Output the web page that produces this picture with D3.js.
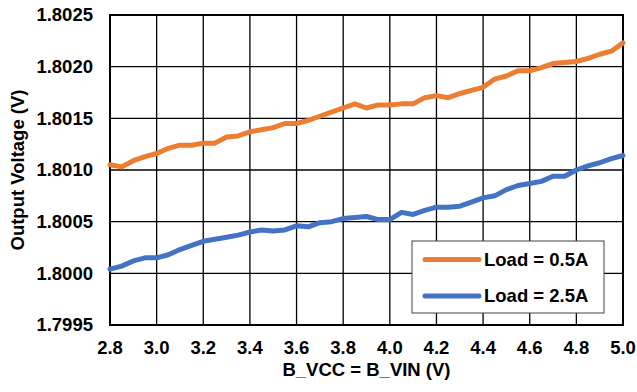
<!DOCTYPE html>
<html>
<head>
<meta charset="utf-8">
<script src="https://cdn.jsdelivr.net/npm/d3@7"></script>
<style>
  body { margin: 0; background: #fff; }
  text { font-family: Arial, "Liberation Sans", sans-serif; font-weight: bold; fill: #000; }
</style>
</head>
<body>
<div id="container"></div>
<script>
// supply voltage steps (V)
var vin = [2.8, 2.85, 2.9, 2.95, 3.0, 3.05, 3.1, 3.15, 3.2, 3.25, 3.3, 3.35, 3.4, 3.45, 3.5, 3.55,
  3.6, 3.65, 3.7, 3.75, 3.8, 3.85, 3.9, 3.95, 4.0, 4.05, 4.1, 4.15, 4.2, 4.25, 4.3, 4.35, 4.4,
  4.45, 4.5, 4.55, 4.6, 4.65, 4.7, 4.75, 4.8, 4.85, 4.9, 4.95, 5.0];

// output voltage, 0.5A load
var load05 = [1.80105, 1.80103, 1.80109, 1.80113, 1.80116, 1.80121, 1.80124, 1.80124, 1.80126,
  1.80126, 1.80132, 1.80133, 1.80137, 1.80139, 1.80141, 1.80145, 1.80145, 1.80148, 1.80152,
  1.80156, 1.80160, 1.80164, 1.80160, 1.80163, 1.80163, 1.80164, 1.80164, 1.80170, 1.80172,
  1.80170, 1.80174, 1.80177, 1.80180, 1.80188, 1.80191, 1.80196, 1.80196, 1.80199, 1.80203,
  1.80204, 1.80205, 1.80208, 1.80212, 1.80215, 1.80223];

// output voltage, 2.5A load
var load25 = [1.80004, 1.80007, 1.80012, 1.80015, 1.80015, 1.80018, 1.80023, 1.80027, 1.80031,
  1.80033, 1.80035, 1.80037, 1.80040, 1.80042, 1.80041, 1.80042, 1.80046, 1.80045, 1.80049,
  1.80050, 1.80053, 1.80054, 1.80055, 1.80052, 1.80052, 1.80059, 1.80057, 1.80061, 1.80064,
  1.80064, 1.80065, 1.80069, 1.80073, 1.80075, 1.80081, 1.80085, 1.80087, 1.80089, 1.80094,
  1.80094, 1.80100, 1.80104, 1.80107, 1.80111, 1.80114];

var xTicks = [2.8, 3.0, 3.2, 3.4, 3.6, 3.8, 4.0, 4.2, 4.4, 4.6, 4.8, 5.0];
var yTicks = [1.7995, 1.8000, 1.8005, 1.8010, 1.8015, 1.8020, 1.8025];
var seriesNames = ["Load = 0.5A", "Load = 2.5A"];
var seriesColors = ["#ED7D31", "#4472C4"];

var width = 637, height = 392;
var margin = {top: 15, right: 14, bottom: 67, left: 110};

var svg = d3.select("#container").append("svg")
  .attr("width", width)
  .attr("height", height);

var x = d3.scaleLinear().domain([2.8, 5.0]).range([margin.left, width - margin.right]);
var y = d3.scaleLinear().domain([1.7995, 1.8025]).range([height - margin.bottom, margin.top]);

// grid
svg.append("g").selectAll("line.v")
  .data(xTicks)
  .enter().append("line")
  .attr("x1", function(d){ return x(d); })
  .attr("x2", function(d){ return x(d); })
  .attr("y1", y(1.7995))
  .attr("y2", y(1.8025))
  .style("stroke", "#000")
  .style("stroke-width", 1.3);

svg.append("g").selectAll("line.h")
  .data(yTicks)
  .enter().append("line")
  .attr("x1", x(2.8))
  .attr("x2", x(5.0))
  .attr("y1", function(d){ return y(d); })
  .attr("y2", function(d){ return y(d); })
  .style("stroke", "#000")
  .style("stroke-width", 1.3);

// frame
svg.append("rect")
  .attr("x", x(2.8))
  .attr("y", y(1.8025))
  .attr("width", x(5.0) - x(2.8))
  .attr("height", y(1.7995) - y(1.8025))
  .style("fill", "none")
  .style("stroke", "#000")
  .style("stroke-width", 2);

// tick labels
svg.append("g").selectAll("text")
  .data(yTicks)
  .enter().append("text")
  .attr("x", 93)
  .attr("y", function(d){ return y(d); })
  .attr("dy", "0.35em")
  .attr("text-anchor", "end")
  .style("font-size", "18.5px")
  .text(function(d){ return d3.format(".4f")(d); });

svg.append("g").selectAll("text")
  .data(xTicks)
  .enter().append("text")
  .attr("x", function(d){ return x(d); })
  .attr("y", 348)
  .attr("dy", "0.35em")
  .attr("text-anchor", "middle")
  .style("font-size", "18.5px")
  .text(function(d){ return d3.format(".1f")(d); });

// axis titles
svg.append("text")
  .attr("x", (x(2.8) + x(5.0)) / 2)
  .attr("y", 376)
  .attr("text-anchor", "middle")
  .style("font-size", "18.5px")
  .text("B_VCC = B_VIN (V)");

svg.append("text")
  .attr("transform", "translate(24," + ((y(1.7995) + y(1.8025)) / 2) + ") rotate(-90)")
  .attr("text-anchor", "middle")
  .style("font-size", "18.5px")
  .text("Output Voltage (V)");

// series
var line = d3.line()
  .x(function(d, i){ return x(vin[i]); })
  .y(function(d){ return y(d); });

[load05, load25].forEach(function(s, k){
  svg.append("path")
    .attr("d", line(s))
    .style("fill", "none")
    .style("stroke", seriesColors[k])
    .style("stroke-width", 5)
    .style("stroke-linejoin", "round")
    .style("stroke-linecap", "round");
});

// legend
var legend = svg.append("g");
legend.append("rect")
  .attr("x", 412)
  .attr("y", 241)
  .attr("width", 192)
  .attr("height", 72)
  .style("fill", "#fff")
  .style("stroke", "#444")
  .style("stroke-width", 1);

seriesNames.forEach(function(n, k){
  var ly = 259.5 + k * 36.5;
  legend.append("line")
    .attr("x1", 425).attr("x2", 479)
    .attr("y1", ly).attr("y2", ly)
    .style("stroke", seriesColors[k])
    .style("stroke-width", 5)
    .style("stroke-linecap", "round");
  legend.append("text")
    .attr("x", 484)
    .attr("y", ly)
    .attr("dy", "0.35em")
    .style("font-size", "18.5px")
    .text(n);
});
</script>
</body>
</html>
